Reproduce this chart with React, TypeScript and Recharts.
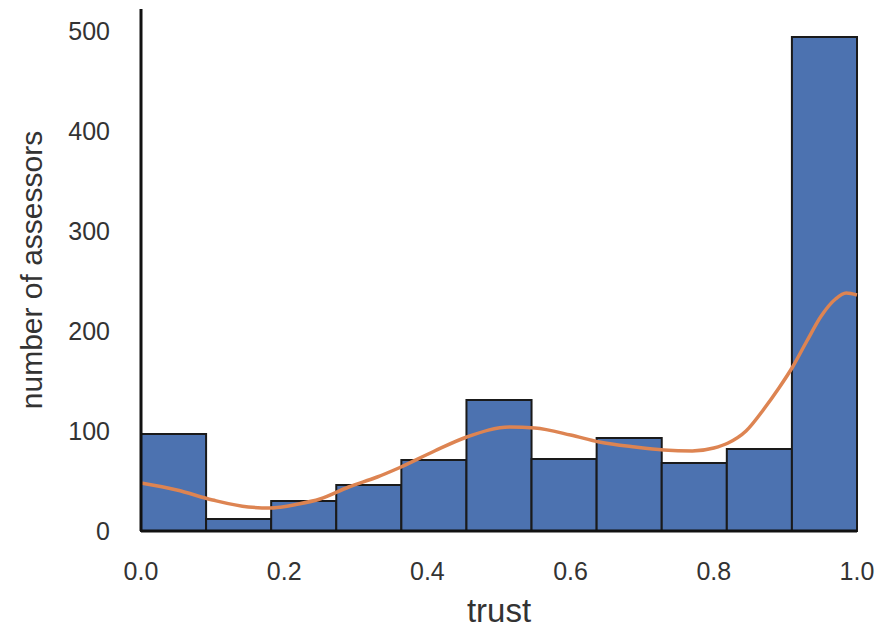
import React from 'react';
import { ComposedChart, Line, XAxis, YAxis, ReferenceArea, Label } from 'recharts';

// histogram: 11 equal bins over [0, 1]
const binCounts = [97, 12, 30, 46, 71, 131, 72, 93, 68, 82, 494];

// kde curve (scaled to counts)
const kdeX = [0.0, 0.05, 0.1, 0.15, 0.18, 0.22, 0.25, 0.29, 0.33, 0.36, 0.41, 0.455, 0.515, 0.55, 0.6, 0.64, 0.69, 0.73, 0.77, 0.8, 0.82, 0.845, 0.87, 0.89, 0.91, 0.93, 0.95, 0.97, 0.985, 1.0];
const kdeY = [48, 41, 31, 24, 23, 27, 32, 44, 54, 63, 80, 94, 104, 103, 96, 89, 84, 81, 80, 83, 88, 100, 122, 142, 164, 190, 215, 232, 238, 236];

const xTicks = [0, 0.2, 0.4, 0.6, 0.8, 1.0];
const yTicks = [0, 100, 200, 300, 400, 500];

const kdeData = kdeX.map((x, i) => ({ x, y: kdeY[i] }));
const nBins = binCounts.length;

const font = '"Liberation Sans", Arial, sans-serif';
const tickStyle = { fontSize: 25, fill: '#333', fontFamily: font };

export default function App() {
  return (
    <div style={{ position: 'absolute', left: 0, top: 0, background: '#fff' }}>
      <ComposedChart
        width={891}
        height={633}
        data={kdeData}
        margin={{ top: 9, right: 34, left: 0, bottom: 0 }}
      >
        <XAxis
          dataKey="x"
          type="number"
          domain={[0, 1]}
          ticks={xTicks}
          tickFormatter={(v: number) => v.toFixed(1)}
          tick={tickStyle}
          tickLine={false}
          tickSize={0}
          tickMargin={31}
          axisLine={{ stroke: '#111', strokeWidth: 3 }}
          height={102}
        >
          <Label
            value="trust"
            position="insideBottom"
            offset={11}
            style={{ fontSize: 33, fill: '#333', fontFamily: font }}
          />
        </XAxis>
        <YAxis
          type="number"
          domain={[0, 522]}
          ticks={yTicks}
          tick={tickStyle}
          tickLine={false}
          tickSize={0}
          tickMargin={31}
          axisLine={{ stroke: '#111', strokeWidth: 3 }}
          width={141}
        >
          <Label
            value="number of assessors"
            angle={-90}
            position="insideLeft"
            offset={31}
            style={{ fontSize: 30, fill: '#333', fontFamily: font, textAnchor: 'middle' }}
          />
        </YAxis>
        {binCounts.map((c, i) => (
          <ReferenceArea
            key={`bin-${i}`}
            x1={i / nBins}
            x2={(i + 1) / nBins}
            y1={0}
            y2={c}
            fill="#4c72b0"
            fillOpacity={1}
            stroke="#1a1a1a"
            strokeWidth={2}
            ifOverflow="visible"
          />
        ))}
        <Line
          type="monotone"
          dataKey="y"
          stroke="#dd8452"
          strokeWidth={3.5}
          dot={false}
          isAnimationActive={false}
        />
      </ComposedChart>
    </div>
  );
}
